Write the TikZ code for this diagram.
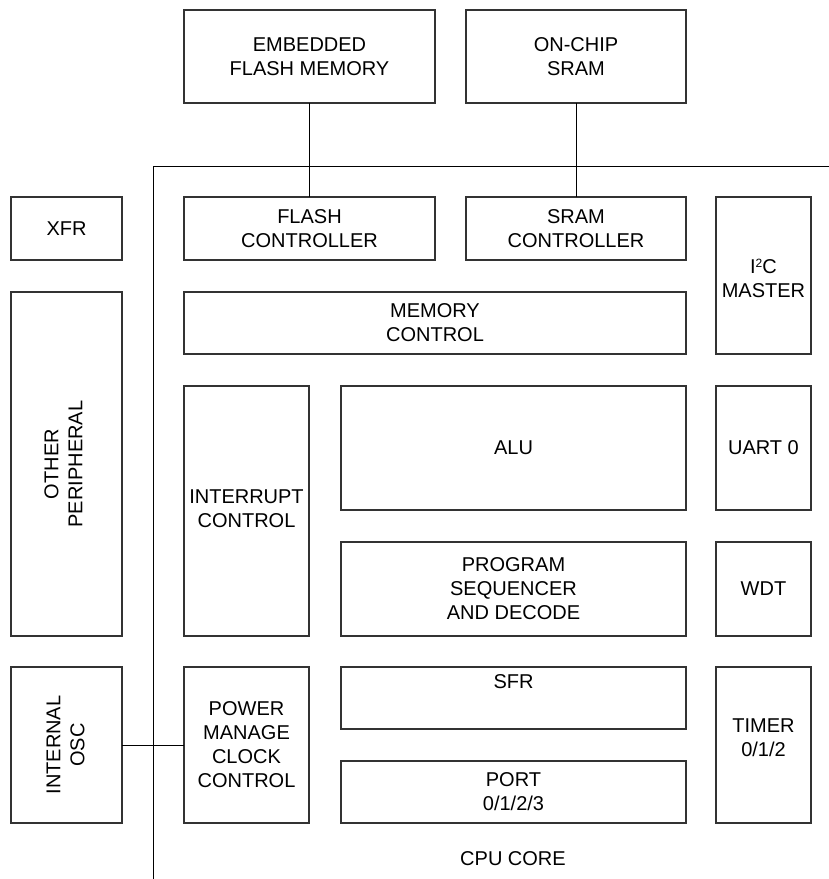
\documentclass[tikz,border=0pt]{standalone}
\usepackage{fontspec}
\setmainfont{Liberation Sans}
\begin{document}
\begin{tikzpicture}[x=1pt,y=1pt,
  box/.style={draw=black!80,line width=1.1pt,inner sep=0pt,outer sep=0pt,anchor=north west},
  lbl/.style={align=center,font=\fontsize{20}{24}\selectfont,inner sep=0pt},
  wire/.style={draw=black,line width=1pt}]
\useasboundingbox (0,0) rectangle (829,-879);
\newcommand{\blk}[5]{%
  \node[box,minimum width={#4-#2},minimum height={#5-#3}] (#1) at (#2,-#3) {};}
\blk{emb}{184}{10}{435}{103}
\blk{sram}{466}{10}{686}{103}
\blk{xfr}{11}{197}{122}{260}
\blk{fctl}{184}{197}{435}{260}
\blk{sctl}{466}{197}{686}{260}
\blk{i2c}{716}{197}{811}{354}
\blk{other}{11}{292}{122}{636}
\blk{memctl}{184}{292}{686}{354}
\blk{intr}{184}{386}{309}{636}
\blk{alu}{341}{386}{686}{510}
\blk{uart}{716}{386}{811}{510}
\blk{prog}{341}{542}{686}{636}
\blk{wdt}{716}{542}{811}{636}
\blk{osc}{11}{667}{122}{823}
\blk{power}{184}{667}{309}{823}
\blk{sfr}{341}{667}{686}{729}
\blk{port}{341}{761}{686}{823}
\blk{timer}{716}{667}{811}{823}
% labels
\node[lbl] (embt) at (emb.center) {EMBEDDED\\FLASH MEMORY};
\node[lbl] (sramt) at (sram.center) {ON-CHIP\\SRAM};
\node[lbl] (xfrt) at (xfr.center) {XFR};
\node[lbl] (fctlt) at (fctl.center) {FLASH\\CONTROLLER};
\node[lbl] (sctlt) at (sctl.center) {SRAM\\CONTROLLER};
\node[lbl] (i2ct) at ([yshift=-3]i2c.center) {I\raisebox{0.6ex}{\fontsize{12}{12}\selectfont 2}C\\MASTER};
\node[lbl,rotate=90] (othert) at ([xshift=-3]other.center) {OTHER\\PERIPHERAL};
\node[lbl] (memctlt) at (memctl.center) {MEMORY\\CONTROL};
\node[lbl] (intrt) at ([yshift=2]intr.center) {INTERRUPT\\CONTROL};
\node[lbl] (alut) at (alu.center) {ALU};
\node[lbl] (uartt) at (uart.center) {UART 0};
\node[lbl] (progt) at (prog.center) {PROGRAM\\SEQUENCER\\AND DECODE};
\node[lbl] (wdtt) at (wdt.center) {WDT};
\node[lbl,rotate=90] (osct) at ([xshift=-1]osc.center) {INTERNAL\\OSC};
\node[lbl] (powert) at (power.center) {POWER\\MANAGE\\CLOCK\\CONTROL};
\node[lbl] (sfrt) at ([yshift=16]sfr.center) {SFR};
\node[lbl] (portt) at (port.center) {PORT\\0/1/2/3};
\node[lbl] (timert) at ([yshift=7]timer.center) {TIMER\\0/1/2};
\node[lbl] (cpu) at (513,-859) {CPU CORE};
% CPU core border
\coordinate (cb) at (153,-879);
\coordinate (cc) at (153,-166);
\coordinate (cr) at (829,-166);
\draw[wire] (cb) -- (cc) -- (cr);
% connectors
\draw[wire] (emb.south) -- (fctl.north);
\draw[wire] (sram.south) -- (sctl.north);
\draw[wire] (osc.east) -- (power.west);
\end{tikzpicture}
\end{document}
